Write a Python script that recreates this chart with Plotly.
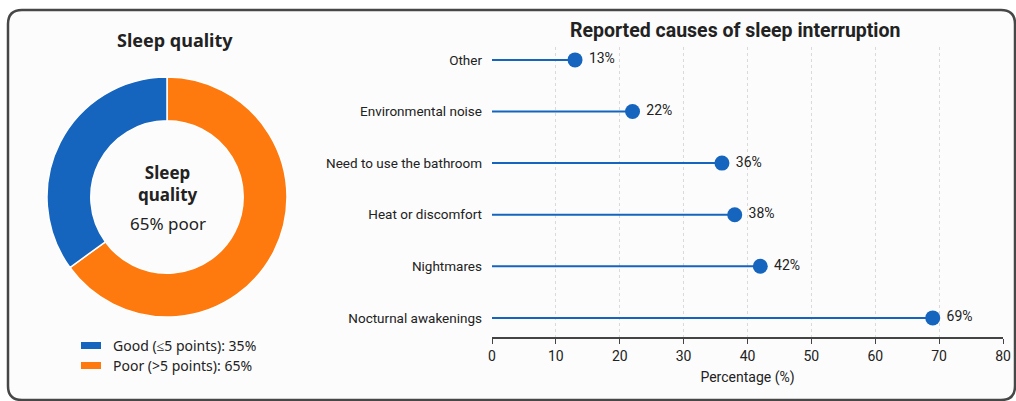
import plotly.graph_objects as go

W, H = 1016, 401

# Donut data
quality_labels = ["Poor (>5 points)", "Good (≤5 points)"]
quality_values = [65, 35]
quality_colors = ["#FF7A0E", "#1565BE"]

# Lollipop data (bottom to top)
causes = ["Nocturnal awakenings", "Nightmares", "Heat or discomfort",
          "Need to use the bathroom", "Environmental noise", "Other"]
cause_values = [69, 42, 38, 36, 22, 13]
x_ticks = [0, 10, 20, 30, 40, 50, 60, 70, 80]

BLUE = "#1565BE"
TEXT = "#222222"
FONT_L = "Noto Sans"
FONT_R = "Roboto"


def px(x):
    return x / W


def py(y):
    return 1 - y / H


fig = go.Figure()

fig.add_trace(go.Pie(
    labels=quality_labels, values=quality_values,
    marker=dict(colors=quality_colors, line=dict(color="white", width=1.5)),
    hole=0.635, sort=False, direction="clockwise", rotation=0,
    textinfo="none", hoverinfo="label+percent", showlegend=False,
    domain=dict(x=[px(47), px(287)], y=[py(317), py(77)]),
))

# stems
stem_x, stem_y = [], []
for c, v in zip(causes, cause_values):
    stem_x += [0, v, None]
    stem_y += [c, c, None]
fig.add_trace(go.Scatter(
    x=stem_x, y=stem_y, mode="lines",
    line=dict(color=BLUE, width=2), showlegend=False, hoverinfo="skip",
))
fig.add_trace(go.Scatter(
    x=cause_values, y=causes, mode="markers+text",
    marker=dict(color=BLUE, size=15),
    text=[f" {v}%" for v in cause_values], textposition="middle right",
    textfont=dict(size=14, color=TEXT, family=FONT_R),
    showlegend=False,
))

fig.update_xaxes(
    domain=[px(492), px(1003)], range=[0, 80], tickvals=x_ticks,
    showgrid=True, gridcolor="#DADADA", griddash="dot", gridwidth=1,
    zeroline=False, showline=True, linecolor="#444", linewidth=1.5,
    ticks="outside", ticklen=5, tickcolor="#444", tickwidth=1.2,
    tickfont=dict(size=14, color=TEXT, family=FONT_R),
    title=dict(text="Percentage (%)", font=dict(size=14, color=TEXT, family=FONT_R), standoff=10),
    automargin=False, fixedrange=True,
)
fig.update_yaxes(
    domain=[py(337), py(47)], type="category",
    categoryorder="array", categoryarray=causes, range=[-0.37, 5.25],
    showgrid=False, zeroline=False, showline=False, ticks="",
    ticklabelstandoff=9,
    tickfont=dict(size=13.5, color=TEXT, family=FONT_R),
    automargin=False, fixedrange=True,
)

shapes = []
# rounded frame
x0, x1, y0, y1, r = 8, 1015, 10, 400, 14
path = (f"M {px(x0 + r)} {py(y0)} L {px(x1 - r)} {py(y0)} "
        f"Q {px(x1)} {py(y0)} {px(x1)} {py(y0 + r)} "
        f"L {px(x1)} {py(y1 - r)} Q {px(x1)} {py(y1)} {px(x1 - r)} {py(y1)} "
        f"L {px(x0 + r)} {py(y1)} Q {px(x0)} {py(y1)} {px(x0)} {py(y1 - r)} "
        f"L {px(x0)} {py(y0 + r)} Q {px(x0)} {py(y0)} {px(x0 + r)} {py(y0)} Z")
shapes.append(dict(type="path", xref="paper", yref="paper", path=path,
                   line=dict(color="#474747", width=2.5), fillcolor="#FCFCFC",
                   layer="below"))


def note(text, x, y, size, family, xanchor="center"):
    return dict(text=text, x=px(x), y=py(y), xref="paper", yref="paper",
                xanchor=xanchor, yanchor="middle", showarrow=False,
                font=dict(size=size, color=TEXT, family=family))


annotations = [
    note("<b>Sleep quality</b>", 175, 40, 18, FONT_L),
    note("<b>Reported causes of sleep interruption</b>", 735, 31, 19.5, FONT_R),
    note("<b>Sleep<br>quality</b>", 168, 183, 17, FONT_L),
    note("65% poor", 168, 224, 17, FONT_L),
]

# legend for the donut
legend_rows = [(quality_labels[1], quality_values[1], quality_colors[1], 345.5),
               (quality_labels[0], quality_values[0], quality_colors[0], 365.5)]
for lab, val, col, yc in legend_rows:
    shapes.append(dict(type="rect", xref="paper", yref="paper",
                       x0=px(81), x1=px(101), y0=py(yc + 3.5), y1=py(yc - 3.5),
                       fillcolor=col, line=dict(width=0)))
    annotations.append(note(f"{lab}: {val}%", 111, yc, 14, FONT_L, "left"))

fig.update_layout(
    width=W, height=H, margin=dict(l=0, r=0, t=0, b=0),
    paper_bgcolor="white", plot_bgcolor="rgba(0,0,0,0)",
    font=dict(family=FONT_L, color=TEXT),
    shapes=shapes, annotations=annotations,
)

fig.write_html("out.html", config={"displayModeBar": False})
